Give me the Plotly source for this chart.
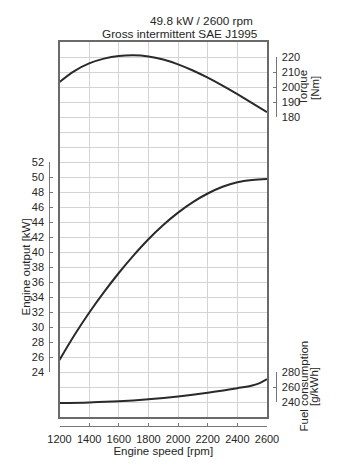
import plotly.graph_objects as go

# ---------------- data ----------------
rpm = [1200, 1300, 1400, 1500, 1600, 1700, 1800, 1900, 2000, 2100, 2200, 2300, 2400, 2500, 2600]
torque_nm = [203.3, 210.6, 215.7, 218.9, 220.7, 221.2, 220.4, 218.3, 215.1, 211.0, 206.2, 200.9, 195.2, 189.3, 183.3]
power_kw = [25.6, 28.9, 31.9, 34.65, 37.2, 39.55, 41.7, 43.6, 45.25, 46.65, 47.8, 48.7, 49.3, 49.6, 49.75]
fuel_rpm = [1200, 1400, 1600, 1800, 2000, 2200, 2400, 2500, 2550, 2600]
fuel_gkwh = [238.7, 239.4, 240.9, 243.6, 247.4, 252.4, 258.4, 262.0, 265.2, 270.5]

x_ticks = [1200, 1400, 1600, 1800, 2000, 2200, 2400, 2600]
power_ticks = [24, 26, 28, 30, 32, 34, 36, 38, 40, 42, 44, 46, 48, 50, 52]
torque_ticks = [180, 190, 200, 210, 220]
fuel_ticks = [240, 260, 280]

title_line1 = "49.8 kW / 2600 rpm"
title_line2 = "Gross intermittent SAE J1995"

# ---------------- layout geometry (pixels) ----------------
W, H = 341, 476
PL, PR, PT, PB = 59.5, 267.0, 42.0, 417.0
NG = 25  # grid rows
G = (PB - PT) / NG


def fx(px):
    return px / W


def fy(py):
    return (H - py) / H


def g2p(g):
    return fy(PB - G * g)


XDOM = [fx(PL), fx(PR)]
YDOM = [fy(PB), fy(PT)]

FONT = "Liberation Sans, Arial, sans-serif"
TXT = "#262626"
CURVE = "#2a2a2a"
GRIDC = "#d4d4d4"
FRAME = "#6a6a6a"
BRK = "#777777"

fig = go.Figure()

# base grid subplot (empty trace so the framed grid axes exist)
fig.add_trace(go.Scatter(x=[None], y=[None], xaxis="x", yaxis="y", mode="lines",
                         showlegend=False, hoverinfo="skip"))

# curves on full-height overlay axes (range chosen so the grid is shared)
fig.add_trace(go.Scatter(x=rpm, y=torque_nm, mode="lines", xaxis="x", yaxis="y2",
                         line=dict(color=CURVE, width=2, shape="spline", smoothing=1.0), hoverinfo="x+y"))
fig.add_trace(go.Scatter(x=rpm, y=power_kw, mode="lines", xaxis="x", yaxis="y3",
                         line=dict(color=CURVE, width=2, shape="spline", smoothing=1.0), hoverinfo="x+y"))
fig.add_trace(go.Scatter(x=fuel_rpm, y=fuel_gkwh, mode="lines", xaxis="x", yaxis="y4",
                         line=dict(color=CURVE, width=2, shape="spline", smoothing=1.0), hoverinfo="x+y"))

# empty traces so that the bracket axes are drawn (paired with the grid-less x2)
for ya in ["y5", "y6", "y7"]:
    fig.add_trace(go.Scatter(x=[None], y=[None], xaxis="x2", yaxis=ya, mode="lines",
                             showlegend=False, hoverinfo="skip"))

bracket_common = dict(showline=True, linecolor=BRK, linewidth=1, ticks="inside", ticklen=3,
                      tickcolor=BRK, tickwidth=1, showgrid=False, zeroline=False,
                      tickfont=dict(family=FONT, size=11, color=TXT), anchor="free",
                      fixedrange=True, ticklabelstandoff=3, automargin=False)

fig.update_layout(
    width=W, height=H, autosize=False,
    margin=dict(l=0, r=0, t=0, b=0, pad=0, autoexpand=False),
    paper_bgcolor="white", plot_bgcolor="rgba(0,0,0,0)",
    showlegend=False,
    font=dict(family=FONT, size=11, color=TXT),
    xaxis=dict(domain=XDOM, range=[x_ticks[0], x_ticks[-1]], tickvals=x_ticks, showticklabels=False,
               ticks="", showgrid=True, gridcolor=GRIDC, gridwidth=1, zeroline=False,
               showline=True, mirror=True, linecolor=FRAME, linewidth=1.5, anchor="y", fixedrange=True),
    yaxis=dict(domain=YDOM, range=[0, NG], dtick=1, showticklabels=False, ticks="",
               showgrid=True, gridcolor=GRIDC, gridwidth=1, zeroline=False,
               showline=True, mirror=True, linecolor=FRAME, linewidth=1.5, anchor="x", fixedrange=True),
    # overlay axes for the curves: scaled so that tick values fall on grid rows
    yaxis2=dict(overlaying="y", range=[180 - 20 * 10, 180 + 5 * 10], visible=False, fixedrange=True),
    yaxis3=dict(overlaying="y", range=[24 - 3 * 2, 24 + 22 * 2], visible=False, fixedrange=True),
    yaxis4=dict(overlaying="y", range=[240 - 1 * 20, 240 + 24 * 20], visible=False, fixedrange=True),
    # bracket axes
    yaxis5=dict(domain=[g2p(20), g2p(24)], range=[180, 220], tickvals=torque_ticks, side="right",
                position=fx(275.6), **bracket_common),
    yaxis6=dict(domain=[g2p(3), g2p(17)], range=[24, 52], tickvals=power_ticks, side="left",
                position=fx(49.3), **bracket_common),
    yaxis7=dict(domain=[g2p(1), g2p(3)], range=[240, 280], tickvals=fuel_ticks, side="right",
                position=fx(275.6), **bracket_common),
    xaxis2=dict(domain=XDOM, range=[x_ticks[0], x_ticks[-1]], tickvals=x_ticks, side="bottom",
                position=fy(426),
                title=dict(text="Engine speed [rpm]", font=dict(family=FONT, size=11.5, color=TXT), standoff=0),
                **bracket_common),
)

ann_font = dict(family=FONT, size=11.5, color=TXT)
annotations = [
    dict(text=title_line1, x=fx(201.5), y=fy(21.5), font=dict(family=FONT, size=11.8, color=TXT)),
    dict(text=title_line2, x=fx(180.3), y=fy(34.3), font=dict(family=FONT, size=11.8, color=TXT)),
    dict(text="Engine output [kW]", x=fx(25.5), y=fy(267), textangle=-90, font=ann_font),
    dict(text="Torque", x=fx(303), y=fy(88), textangle=-90, font=ann_font),
    dict(text="[Nm]", x=fx(315), y=fy(88), textangle=-90, font=ann_font),
    dict(text="Fuel consumption", x=fx(303), y=fy(386.5), textangle=-90, font=ann_font),
    dict(text="[g/kWh]", x=fx(313.5), y=fy(386.5), textangle=-90, font=ann_font),
]
for a in annotations:
    a.update(xref="paper", yref="paper", xanchor="center", yanchor="middle", showarrow=False,
             borderpad=0)
fig.update_layout(annotations=annotations)

fig.write_html("out.html")
